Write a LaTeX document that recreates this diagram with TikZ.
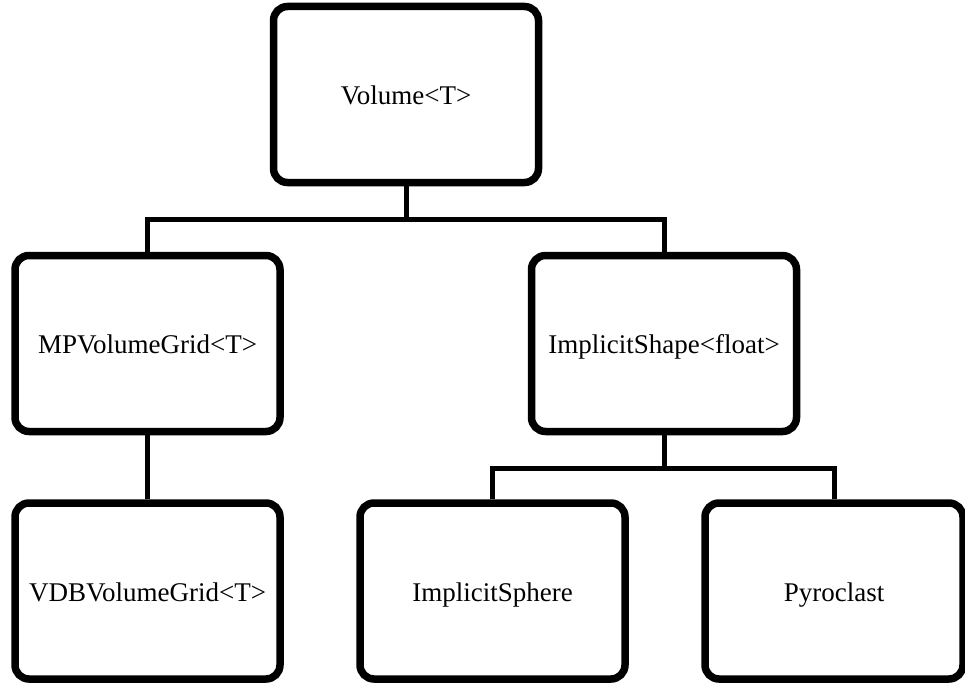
\documentclass[tikz,border=0pt]{standalone}
\usepackage{fontspec}
\setmainfont{Liberation Serif}
\usetikzlibrary{shadows.blur}

\tikzset{
  classbox/.style={
    draw=black, fill=white, line width=7.5pt, rounded corners=14pt,
    minimum width=265pt, minimum height=176pt, inner sep=0pt,
    text height=20pt, text depth=0pt,
    font=\fontsize{27}{31}\selectfont,
    blur shadow={shadow xshift=1pt, shadow yshift=-2pt,
                 shadow blur steps=6, shadow opacity=22}
  },
  link/.style={draw=black, line width=5pt}
}

\begin{document}
\begin{tikzpicture}[x=1pt, y=-1pt]
  \useasboundingbox (0,0) rectangle (965,682);

  % class boxes
  \node[classbox] (vol)    at (406,94.5)  {Volume<T>};
  \node[classbox] (mp)     at (147.5,343.5) {MPVolumeGrid<T>};
  \node[classbox] (shape)  at (664,343.5) {ImplicitShape<float>};
  \node[classbox] (vdb)    at (147.5,591) {VDBVolumeGrid<T>};
  \node[classbox] (sphere) at (492.5,591) {ImplicitSphere};
  \node[classbox, minimum width=258pt] (pyro) at (834,591) {Pyroclast};

  % inheritance buses
  \coordinate (bus1) at (406,219.5);
  \coordinate (bus2) at (664,468.5);

  \draw[link] (vol.south) -- (bus1);
  \draw[link] (mp.north) |- (bus1) -| (shape.north);

  \draw[link] (mp.south) -- (vdb.north);

  \draw[link] (shape.south) -- (bus2);
  \draw[link] (sphere.north) |- (bus2) -| (pyro.north);
\end{tikzpicture}
\end{document}
